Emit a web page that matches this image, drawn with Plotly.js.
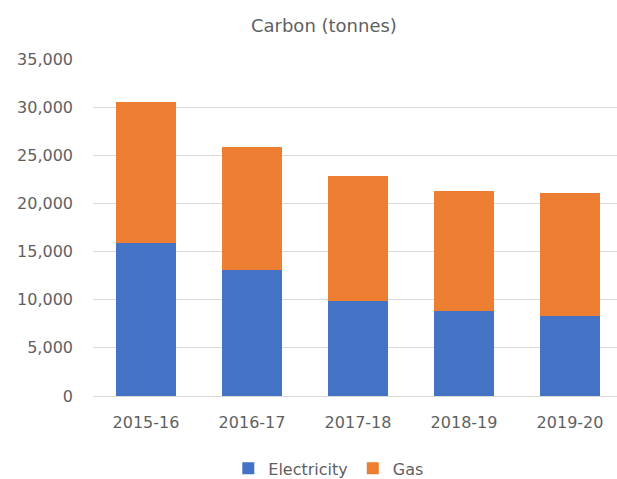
<!DOCTYPE html>
<html>
<head>
<meta charset="utf-8">
<script src="https://cdn.plot.ly/plotly-3.0.1.min.js"></script>
<style>html,body{margin:0;padding:0;background:#fff;}#chart{width:617px;height:479px;}</style>
</head>
<body>
<div id="chart"></div>
<script>
const years = ["2015-16", "2016-17", "2017-18", "2018-19", "2019-20"];
const electricity = [15900, 13100, 9850, 8800, 8350];
const gas = [14600, 12800, 12950, 12500, 12750];
const yTicks = [0, 5000, 10000, 15000, 20000, 25000, 30000, 35000];

const font = "'DejaVu Sans', sans-serif";
const txt = "#5f5f5f";
const traces = [
  {type: "bar", name: "Electricity", x: years, y: electricity, marker: {color: "#4472C4"}, width: 0.566},
  {type: "bar", name: "Gas", x: years, y: gas, marker: {color: "#ED7D31"}, width: 0.566}
];
const layout = {
  width: 617, height: 479,
  barmode: "stack",
  paper_bgcolor: "#ffffff", plot_bgcolor: "#ffffff",
  margin: {l: 93, r: 0, t: 59, b: 83, autoexpand: false},
  font: {family: font, color: txt, size: 16},
  title: {text: "Carbon (tonnes)", x: 0.525, xref: "container", xanchor: "center", y: 0.946, yref: "container", yanchor: "middle", font: {size: 18, color: txt, family: font}},
  xaxis: {type: "category", range: [-0.5, 4.443], automargin: false, tickangle: 0, showgrid: false, showline: false, ticks: "", ticklabelstandoff: 15, tickfont: {size: 16, color: txt}},
  yaxis: {range: [0, 35000], automargin: false, tickvals: yTicks, ticktext: yTicks.map(v => v.toLocaleString("en-US")), showgrid: true, gridcolor: "#D9D9D9", gridwidth: 1, zeroline: true, zerolinecolor: "#D9D9D9", zerolinewidth: 1, ticks: "", ticklabelstandoff: 19, tickfont: {size: 16, color: txt}},
  showlegend: true,
  legend: {orientation: "h", x: 0.45, xref: "paper", xanchor: "center", y: -0.215, yanchor: "middle", font: {size: 16, color: txt}, traceorder: "normal"}
};
Plotly.newPlot("chart", traces, layout, {displayModeBar: false, staticPlot: true});
</script>
</body>
</html>
